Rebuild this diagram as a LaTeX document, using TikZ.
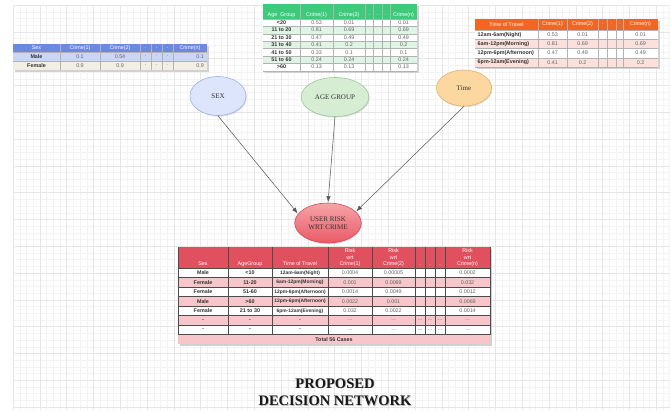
\documentclass[tikz,border=0pt]{standalone}
\usepackage{fontspec}
\setmainfont{Liberation Serif}
\setsansfont{Liberation Sans}
\usetikzlibrary{arrows.meta,positioning,shapes.geometric,shadows}
\definecolor{gridminor}{HTML}{F3F3F3}
\definecolor{gridmajor}{HTML}{E6E6E6}
\definecolor{sexhead}{HTML}{6A8AE2}
\definecolor{sexrow}{HTML}{C9D6F6}
\definecolor{sexrowb}{HTML}{F3EEE3}
\definecolor{agehead}{HTML}{3DCB7B}
\definecolor{agerow}{HTML}{E0F4E6}
\definecolor{timehead}{HTML}{F2661F}
\definecolor{timerow}{HTML}{FBE0DB}
\definecolor{riskhead}{HTML}{E0505F}
\definecolor{riskrow}{HTML}{F7C6CA}
\definecolor{sexfill}{HTML}{DCE5FB}
\definecolor{sexdraw}{HTML}{9CB1E8}
\definecolor{agefill}{HTML}{D6EDD4}
\definecolor{agedraw}{HTML}{98CA96}
\definecolor{timefill}{HTML}{FCD8A0}
\definecolor{timedraw}{HTML}{E2B36C}
\definecolor{userlight}{HTML}{F7A4A8}
\definecolor{userdark}{HTML}{E85A66}
\definecolor{userdraw}{HTML}{D24B57}
\newcommand\tdots{...}
\tikzset{
  every picture/.append style={line width=0.4pt},
}
\tikzset{
  cellline/.style={draw=black!30, line width=0.3pt},
  darkline/.style={draw=black!70, line width=0.4pt},
  tabshadow/.style={fill=black!18},
  headtxt/.style={font=\fontsize{4.6}{5.2}\selectfont\sffamily, text=white, inner sep=0pt},
  lbltxt/.style={font=\fontsize{4.6}{5.2}\selectfont\sffamily\bfseries, text=black!80, inner sep=0pt},
  numtxt/.style={font=\fontsize{4.6}{5.2}\selectfont\sffamily, text=black!60, inner sep=0pt}
}

\begin{document}
\begin{tikzpicture}[
  x=0.03cm, y=-0.03cm,
  >=Latex,
  var/.style={ellipse, draw, line width=0.5pt, minimum width=1.68cm, minimum height=1.17cm,
    font=\fontsize{6}{7}\selectfont, text=black!80, align=center,
    drop shadow={opacity=0.25, shadow xshift=0.7pt, shadow yshift=-0.9pt}},
  link/.style={->, draw=black!65, line width=0.45pt, shorten >=0.5pt}
]
\useasboundingbox (0,0) rectangle (670,410);
\fill[white] (0,0) rectangle (670,410);

% Background grid
\foreach \x in {13,19.7,...,670}
  \draw[gridminor, line width=0.2pt] (\x,5) -- (\x,410);
\foreach \y in {5,11.7,...,410}
  \draw[gridminor, line width=0.2pt] (13,\y) -- (670,\y);
\foreach \x in {13,39.8,...,670}
  \draw[gridmajor, line width=0.3pt] (\x,5) -- (\x,410);
\foreach \y in {5,31.8,...,410}
  \draw[gridmajor, line width=0.3pt] (13,\y) -- (670,\y);

% Sex table - top left
\fill[tabshadow] (14.5,45.5) rectangle (208.5,71.5);
\fill[sexhead] (13,44) rectangle (207,52);
\fill[sexrow] (13,52) rectangle (207,61);
\fill[sexrowb] (13,61) rectangle (207,70);
\foreach \x in {60,100,140,151,162,173}
  \draw[cellline] (\x,44) -- (\x,70);
\foreach \y in {52,61}
  \draw[cellline] (13,\y) -- (207,\y);
\foreach \x/\t [count=\i] in {36.5/Sex, 80/Crime(1), 120/Crime(2), 145.5/., 156.5/., 167.5/., 190/Crime(n)}
  \node[headtxt] (sexh\i) at (\x,48) {\t};
\foreach \l/\a/\b/\n [count=\r] in {Male/0.1/0.54/0.1, Female/0.9/0.9/0.9} {
  \pgfmathsetmacro\yc{52+9*(\r-0.5)}
  \node[lbltxt] (sexl\r) at (36.5,\yc) {\l};
  \node[numtxt] (sexa\r) at (80,\yc) {\a};
  \node[numtxt] (sexb\r) at (120,\yc) {\b};
  \foreach \x in {145.5,156.5,167.5}
    \node[numtxt] at (\x,\yc) {.};
  \node[numtxt, anchor=east] (sexn\r) at (204,\yc) {\n};
}

% Age group table - top centre
\fill[tabshadow] (264.5,5.5) rectangle (418.5,72.5);
\fill[agehead] (263,4) rectangle (417,19);
\foreach \r in {1,...,7} {
  \pgfmathsetmacro\yt{19+7.4*(\r-1)}
  \pgfmathsetmacro\yb{19+7.4*\r}
  \ifodd\r \fill[white] (263,\yt) rectangle (417,\yb);
  \else \fill[agerow] (263,\yt) rectangle (417,\yb); \fi
}
\foreach \x in {300,333,365,373,382,390}
  \draw[cellline] (\x,4) -- (\x,70.8);
\foreach \y in {19,26.4,...,70}
  \draw[cellline] (263,\y) -- (417,\y);
\draw[cellline] (263,70.8) -- (417,70.8);
\foreach \x/\t [count=\i] in {281.5/Age~~Group, 316.5/Crime(1), 349/Crime(2), 369/., 377.5/., 386/., 403.5/Crime(n)}
  \node[headtxt] (ageh\i) at (\x,15) {\t};
\foreach \l/\a/\b/\n [count=\r] in {{<20}/0.53/0.01/0.01, 11 to 20/0.81/0.69/0.69, 21 to 30/0.47/0.49/0.49,
    31 to 40/0.41/0.2/0.2, 41 to 50/0.33/0.1/0.1, 51 to 60/0.24/0.24/0.24, {>60}/0.13/0.13/0.13} {
  \pgfmathsetmacro\yc{19+7.4*(\r-0.5)}
  \node[lbltxt] (agel\r) at (281.5,\yc) {\l};
  \node[numtxt] (agea\r) at (316.5,\yc) {\a};
  \node[numtxt] (ageb\r) at (349,\yc) {\b};
  \node[numtxt] (agen\r) at (403.5,\yc) {\n};
}

% Time of travel table - top right
\fill[tabshadow] (476.5,20.5) rectangle (659.5,68.5);
\fill[timehead] (475,19) rectangle (658,30);
\foreach \r in {1,...,4} {
  \pgfmathsetmacro\yt{30+9.25*(\r-1)}
  \pgfmathsetmacro\yb{30+9.25*\r}
  \ifodd\r \fill[white] (475,\yt) rectangle (658,\yb);
  \else \fill[timerow] (475,\yt) rectangle (658,\yb); \fi
}
\foreach \x in {538,567,598,607,616,623}
  \draw[cellline] (\x,19) -- (\x,67);
\foreach \y in {30,39.25,48.5,57.75,67}
  \draw[cellline] (475,\y) -- (658,\y);
\foreach \x/\t [count=\i] in {506.5/Time of Travel, 552.5/Crime(1), 582.5/Crime(2), 602.5/., 611.5/., 619.5/., 640.5/Crime(n)}
  \node[headtxt] (timeh\i) at (\x,24.5) {\t};
\foreach \l/\a/\b/\n [count=\r] in {12am-6am(Night)/0.53/0.01/0.01, 6am-12pm(Morning)/0.81/0.69/0.69,
    12pm-6pm(Afternoon)/0.47/0.49/0.49, 6pm-12am(Evening)/0.41/0.2/0.2} {
  \pgfmathsetmacro\yc{30+9.25*(\r-0.5)}
  \node[lbltxt, anchor=west] (timel\r) at (477.5,\yc) {\l};
  \node[numtxt] (timea\r) at (552.5,\yc) {\a};
  \node[numtxt] (timeb\r) at (582.5,\yc) {\b};
  \node[numtxt] (timen\r) at (640.5,\yc) {\n};
}

% Variables
\node[var, fill=sexfill, draw=sexdraw] (sex) at (218,96) {SEX};
\node[var, fill=agefill, draw=agedraw] (age) at (335,97) {AGE GROUP};
\node[var, fill=timefill, draw=timedraw, minimum width=1.65cm, minimum height=1.08cm] (time) at (464,88) {Time};
\node[var, top color=userlight, bottom color=userdark, draw=userdraw, minimum width=1.65cm,
  minimum height=1.2cm] (user) at (328,223) {USER RISK\\WRT CRIME};

% Links to the risk node
\draw[link] (sex.south) -- (user.163);
\draw[link] (age.south) -- (user.north);
\draw[link] (time.south) -- (user.22);

% Risk table - bottom
\fill[tabshadow] (179.5,248.5) rectangle (491.5,345.5);
\fill[riskhead] (178,247) rectangle (490,268);
\foreach \r in {1,...,7} {
  \pgfmathsetmacro\yt{268+9.5*(\r-1)}
  \pgfmathsetmacro\yb{268+9.5*\r}
  \ifodd\r \fill[white] (178,\yt) rectangle (490,\yb);
  \else \fill[riskrow] (178,\yt) rectangle (490,\yb); \fi
}
\fill[riskrow] (178,334.5) rectangle (490,344);
\foreach \x in {228,272,328,372,415,425,435,445}
  \draw[darkline] (\x,247) -- (\x,334.5);
\draw[darkline] (178,247) -- (178,334.5);
\draw[darkline] (490,247) -- (490,334.5);
\foreach \y in {268,277.5,287,296.5,306,315.5,325,334.5}
  \draw[darkline] (178,\y) -- (490,\y);
\foreach \x/\t [count=\i] in {203/Sex, 250/AgeGroup, 300/Time of Travel, 420/., 430/., 440/.}
  \node[headtxt, anchor=base] (riskh\i) at (\x,265) {\t};
\foreach \x/\t [count=\i] in {350/Crime(1), 393.5/Crime(2), 467.5/Crime(n)}
  \node[headtxt, align=center, anchor=south] (riskc\i) at (\x,266.5) {Risk\\wrt\\\t};
\foreach \s/\g/\t/\a/\b/\n [count=\r] in {
    Male/{<10}/12am-6am(Night)/0.0004/0.00005/0.0002,
    Female/11-20/6am-12pm(Morning)/0.001/0.0069/0.032,
    Female/51-60/12pm-6pm(Afternoon)/0.0014/0.0049/0.0012,
    Male/{>60}/12pm-6pm(Afternoon)/0.0022/0.001/0.0069,
    Female/21 to 30/6pm-12am(Evening)/0.032/0.0022/0.0014,
    -/-/-/\tdots/\tdots/\tdots,
    -/-/-/\tdots/\tdots/\tdots} {
  \pgfmathsetmacro\yc{268+9.5*(\r-0.5)}
  \node[lbltxt] (risks\r) at (203,\yc) {\s};
  \node[lbltxt] (riskg\r) at (250,\yc) {\g};
  \node[lbltxt, font=\fontsize{4.2}{5}\selectfont\sffamily\bfseries] (riskt\r) at (300,\yc) {\t};
  \node[numtxt] (riska\r) at (350,\yc) {\a};
  \node[numtxt] (riskb\r) at (393.5,\yc) {\b};
  \node[numtxt] (riskn\r) at (467.5,\yc) {\n};
}
\foreach \r in {6,7}
  \foreach \x in {420,430,440} {
    \pgfmathsetmacro\yc{268+9.5*(\r-0.5)}
    \node[numtxt] at (\x,\yc) {\tdots};
  }
\node[lbltxt] (total) at (334,339.3) {Total 56 Cases};

% Title
\node[font=\fontsize{12.4}{14.6}\selectfont\bfseries, text=black!25, align=center] at (335.8,392.8)
  {PROPOSED\\DECISION NETWORK};
\node[font=\fontsize{12.4}{14.6}\selectfont\bfseries, text=black!90, align=center] (title) at (335,392)
  {PROPOSED\\DECISION NETWORK};

\end{tikzpicture}
\end{document}
